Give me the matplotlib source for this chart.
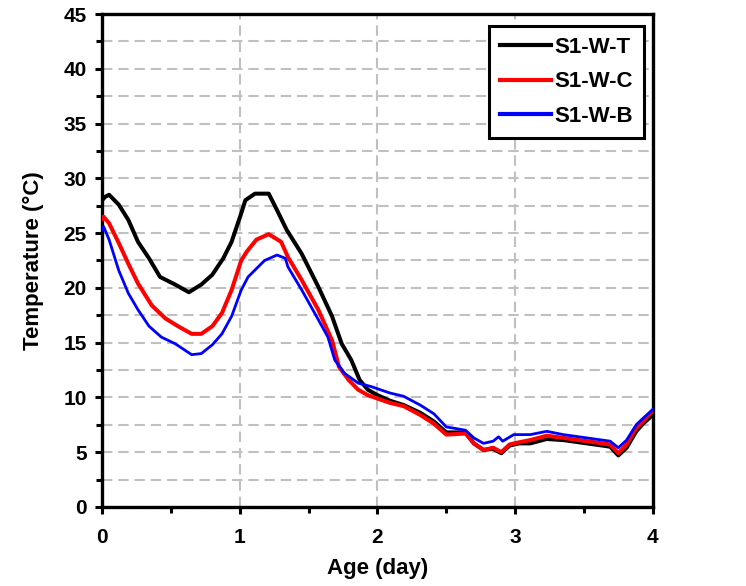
import matplotlib
matplotlib.use("Agg")
import matplotlib.pyplot as plt
from matplotlib.ticker import MultipleLocator

plt.rcParams['font.family'] = ['Liberation Sans', 'DejaVu Sans']
plt.rcParams['font.weight'] = 'bold'

# S1-W-T (top)
age_t = [0, 0.02, 0.05, 0.12, 0.19, 0.26, 0.34, 0.42, 0.53, 0.63, 0.72, 0.80, 0.88, 0.94, 1.01,
         1.04, 1.11, 1.21, 1.27, 1.34, 1.45, 1.57, 1.67, 1.74, 1.81, 1.87, 1.93, 2.0, 2.09,
         2.19, 2.31, 2.41, 2.50, 2.64, 2.70, 2.77, 2.84, 2.90, 2.96, 3.03, 3.11, 3.23, 3.35,
         3.52, 3.69, 3.75, 3.81, 3.88, 3.93, 4.0]
temp_t = [28.0, 28.3, 28.5, 27.6, 26.2, 24.2, 22.7, 21.0, 20.3, 19.6, 20.3, 21.2, 22.7, 24.2, 26.8,
          28.0, 28.6, 28.6, 27.1, 25.3, 23.1, 20.1, 17.4, 14.9, 13.4, 11.6, 10.7, 10.2, 9.7,
          9.3, 8.6, 7.8, 6.8, 6.8, 5.8, 5.2, 5.3, 4.9, 5.6, 5.8, 5.8, 6.2, 6.1,
          5.8, 5.5, 4.7, 5.4, 6.9, 7.6, 8.4]

# S1-W-C (center)
age_c = [0, 0.01, 0.05, 0.12, 0.19, 0.26, 0.36, 0.46, 0.55, 0.65, 0.72, 0.80, 0.87, 0.94, 1.01,
         1.05, 1.12, 1.21, 1.30, 1.35, 1.45, 1.57, 1.67, 1.72, 1.79, 1.86, 1.93, 2.09, 2.19,
         2.31, 2.41, 2.50, 2.64, 2.70, 2.77, 2.84, 2.90, 2.96, 3.03, 3.11, 3.23, 3.35, 3.52,
         3.69, 3.75, 3.81, 3.88, 3.93, 4.0]
temp_c = [26.3, 26.5, 25.9, 24.1, 22.2, 20.4, 18.4, 17.2, 16.5, 15.8, 15.8, 16.5, 17.7, 19.8, 22.5,
          23.3, 24.4, 24.9, 24.2, 22.8, 20.7, 18.0, 15.2, 12.8, 11.6, 10.7, 10.2, 9.5, 9.2,
          8.4, 7.6, 6.6, 6.7, 5.8, 5.2, 5.4, 5.0, 5.7, 5.9, 6.1, 6.5, 6.3, 6.0,
          5.7, 4.9, 5.7, 7.2, 7.8, 8.8]

# S1-W-B (bottom)
age_b = [0, 0.01, 0.05, 0.12, 0.19, 0.26, 0.34, 0.43, 0.53, 0.65, 0.72, 0.80, 0.87, 0.94, 1.01,
         1.06, 1.18, 1.27, 1.33, 1.35, 1.45, 1.57, 1.64, 1.69, 1.76, 1.86, 1.95, 2.09, 2.19,
         2.31, 2.41, 2.50, 2.64, 2.70, 2.77, 2.84, 2.88, 2.91, 2.99, 3.11, 3.23, 3.35, 3.52,
         3.69, 3.75, 3.81, 3.88, 3.93, 4.0]
temp_b = [25.3, 25.6, 24.4, 21.6, 19.5, 18.0, 16.5, 15.5, 14.9, 13.9, 14.0, 14.8, 15.8, 17.4, 19.8,
          21.0, 22.5, 23.0, 22.7, 21.9, 19.8, 17.1, 15.5, 13.4, 12.2, 11.3, 11.0, 10.4, 10.1,
          9.3, 8.5, 7.3, 7.0, 6.3, 5.8, 6.0, 6.4, 6.0, 6.6, 6.6, 6.9, 6.6, 6.3,
          6.0, 5.4, 6.1, 7.5, 8.1, 8.9]

fig = plt.figure(figsize=(7.46, 5.86), dpi=100)
ax = fig.add_axes([0.137, 0.135, 0.738, 0.841])

ax.plot(age_t, temp_t, color='black', lw=2.9, label='S1-W-T', zorder=3)
ax.plot(age_c, temp_c, color='red', lw=2.9, label='S1-W-C', zorder=4)
ax.plot(age_b, temp_b, color='blue', lw=2.0, label='S1-W-B', zorder=5)

ax.set_xlim(0, 4)
ax.set_ylim(0, 45)
ax.xaxis.set_major_locator(MultipleLocator(1))
ax.xaxis.set_minor_locator(MultipleLocator(0.5))
ax.yaxis.set_major_locator(MultipleLocator(5))
ax.yaxis.set_minor_locator(MultipleLocator(2.5))

ax.grid(True, which='major', axis='x', color='#c0c0c0', lw=1.5, ls=(0, (5, 2.8)))
ax.grid(True, which='both', axis='y', color='#c0c0c0', lw=1.5, ls=(0, (5, 2.8)))
ax.set_axisbelow(True)

for s in ax.spines.values():
    s.set_linewidth(2.4)
ax.tick_params(which='major', direction='out', length=5, width=2.2, labelsize=15, pad=6)
ax.tick_params(which='minor', direction='out', length=4, width=2.2)
ax.tick_params(axis='x', pad=10)

ax.set_xlabel('Age (day)', fontsize=16, fontweight='bold', labelpad=8)
ax.set_ylabel('Temperature (°C)', fontsize=16, fontweight='bold', labelpad=14)

leg = ax.legend(loc='upper right', fontsize=16, fancybox=False, framealpha=1,
                handlelength=2.3, borderpad=0.5, labelspacing=0.6, handletextpad=0.15,
                borderaxespad=0, bbox_to_anchor=(0.984, 0.976))
leg.get_frame().set_edgecolor('black')
leg.get_frame().set_linewidth(2.2)
for line in leg.get_lines():
    line.set_linewidth(3)

fig.savefig('out.png', dpi=100)
